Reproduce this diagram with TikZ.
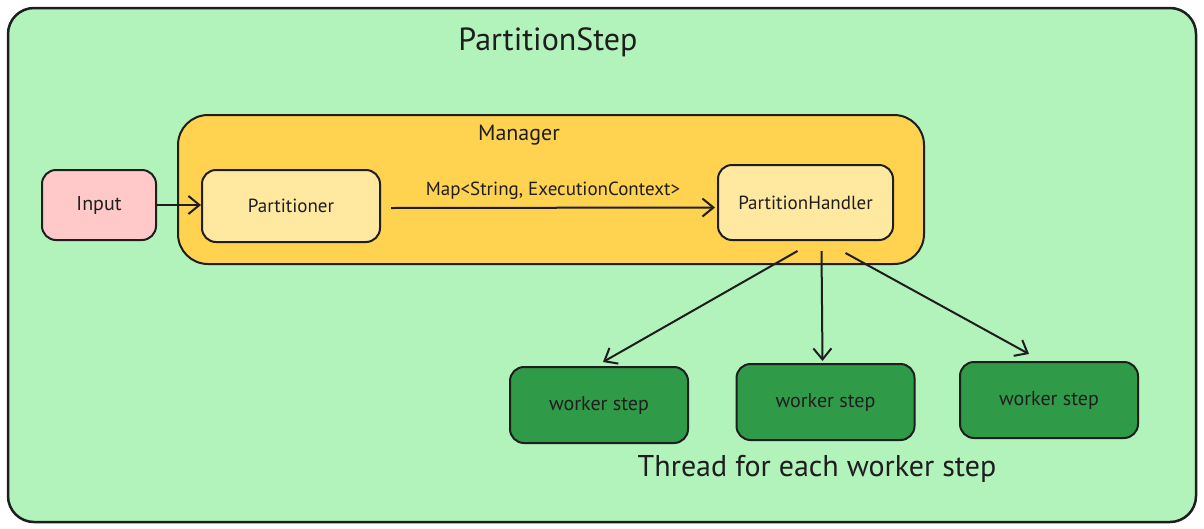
\documentclass[tikz,border=0pt]{standalone}
\usepackage{fontspec}
\setmainfont{PT Sans}
\usetikzlibrary{arrows.meta,calc}
\definecolor{bggreen}{HTML}{B2F2BB}
\definecolor{mgr}{HTML}{FFD24F}
\definecolor{pinkc}{HTML}{FFC9C9}
\definecolor{lyellow}{HTML}{FFE8A0}
\definecolor{dgreen}{HTML}{2F9A48}
\definecolor{ink}{HTML}{1E1E1E}
\tikzset{
  box/.style={draw=ink, line width=2pt, rounded corners=14pt, inner sep=0pt, font=\fontsize{19}{22}\selectfont, text=ink},
  worker/.style={box, fill=dgreen, minimum width=178pt, minimum height=76pt, font=\fontsize{20}{23}\selectfont},
  conn/.style={draw=ink, line width=2pt, -{Straight Barb[length=11pt,width=18pt,line width=2pt]}},
}
\begin{document}
\begin{tikzpicture}[x=1pt,y=-1pt]
\useasboundingbox (0,0) rectangle (1204,528);
\fill[white] (0,0) rectangle (1204,528);
% outer frame
\node[draw=ink, line width=2.5pt, fill=bggreen, rounded corners=26pt, minimum width=1188pt, minimum height=514pt, inner sep=0pt] (frame) at (602,265) {};
\node[font=\fontsize{32}{36}\selectfont, text=ink] (title) at (548,42) {PartitionStep};
% manager
\node[draw=ink, line width=2pt, fill=mgr, rounded corners=30pt, minimum width=746pt, minimum height=149pt, inner sep=0pt] (mgr) at (551,189.5) {};
\node[font=\fontsize{22}{26}\selectfont, text=ink] (mgrlabel) at (519,135) {Manager};
% nodes
\node[box, fill=pinkc, minimum width=114pt, minimum height=70pt, font=\fontsize{20}{23}\selectfont] (input) at (99,205) {Input};
\node[box, fill=lyellow, minimum width=178pt, minimum height=72pt] (part) at (291,206) {Partitioner};
\node[box, fill=lyellow, minimum width=175pt, minimum height=75pt] (ph) at (805.5,202.5) {PartitionHandler};
\node[worker] (w1) at (599,405) {worker step};
\node[worker] (w2) at (825.5,402) {worker step};
\node[worker] (w3) at (1049,400) {worker step};
\node[font=\fontsize{30}{34}\selectfont, text=ink] (thread) at (817,469) {Thread for each worker step};
% connectors
\draw[conn] (input.east) -- (part.west |- input.east);
\draw[conn] ($(part.east)+(10,2)$) -- node[above=4pt, font=\fontsize{19}{22}\selectfont, text=ink] (maplabel) {Map<String, ExecutionContext>} ($(ph.west)+(-2,5)$);
\coordinate (s1) at ($(ph.south)+(-8,10)$);
\coordinate (s2) at ($(ph.south)+(16,10)$);
\coordinate (s3) at ($(ph.south)+(40,12)$);
\draw[conn] (s1) -- ($(w1.north)+(4,-4)$);
\draw[conn] (s2) -- ($(w2.north)+(-3,-2)$);
\draw[conn] (s3) -- ($(w3.north)+(-20,-7)$);
\end{tikzpicture}
\end{document}
